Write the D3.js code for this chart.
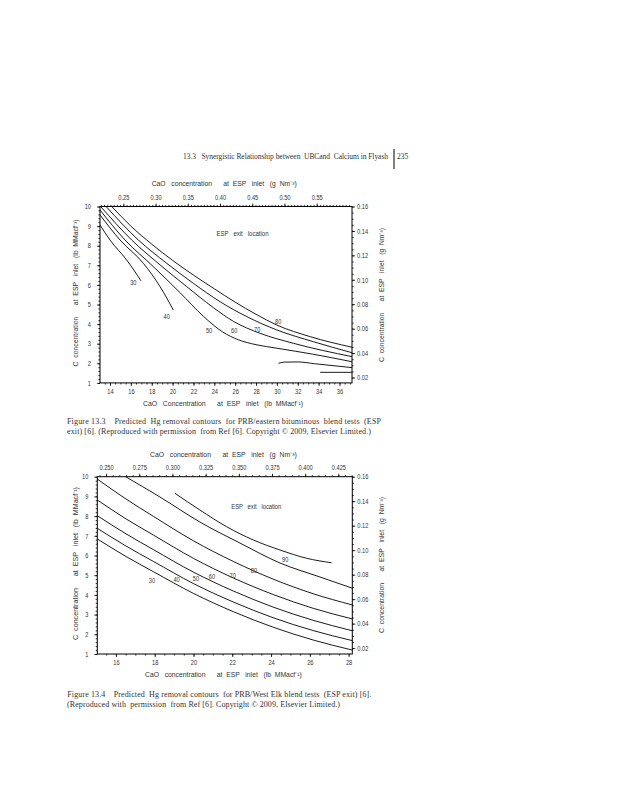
<!DOCTYPE html>
<html>
<head>
<meta charset="utf-8">
<script src="https://cdn.jsdelivr.net/npm/d3@7"></script>
<style>
  body { margin: 0; background: #fff; }
  svg text { font-family: "Liberation Sans", Arial, sans-serif; fill: #333; white-space: pre; }
  .serif { font-family: "Liberation Serif", "DejaVu Serif", serif; }
</style>
</head>
<body>
<svg id="page" width="618" height="800"></svg>
<script>
// ---- Figure 13.3 (PRB / eastern bituminous), x and y in lb/MMacf
const fig3Levels = [30, 40, 50, 60, 70, 80];
const fig3C30 = [[13.04, 9.06], [14.0, 8.29], [15.6, 7.27], [16.97, 6.21]];
const fig3C40 = [[13.04, 9.57], [14.96, 8.29], [17.2, 7.1], [18.8, 5.91], [20.07, 4.72]];
const fig3C50 = [[13.04, 9.82], [15.44, 8.29], [18.16, 6.93], [20.72, 5.6], [22.95, 4.4], [24.8, 3.6], [26.3, 3.2], [28.0, 2.95], [30.0, 2.77], [33.51, 2.46], [37.2, 2.08]];
const fig3C60 = [[13.1, 10], [16.08, 8.29], [18.8, 7.02], [21.36, 5.91], [23.91, 4.84], [25.83, 4.14], [28.39, 3.53], [31.59, 3.02], [37.2, 2.34]];
const fig3C70 = [[13.62, 10], [16.72, 8.29], [19.44, 7.1], [21.99, 6.08], [24.56, 5.14], [27.12, 4.38], [30.0, 3.7], [33.51, 3.1], [37.2, 2.54]];
const fig3C80 = [[14.16, 10], [16.0, 9.0], [18.0, 8.08], [20.0, 7.25], [22.0, 6.5], [24.0, 5.8], [26.0, 5.12], [28.0, 4.5], [30.0, 3.95], [33.19, 3.36], [37.2, 2.82]];
const fig3ShortA = [[30.15, 2.0], [30.7, 2.06], [32.0, 2.07], [33.6, 1.98], [37.2, 1.78]];
const fig3ShortB = [[34.15, 1.54], [37.2, 1.54]];
const fig3LabelPos = [[16.24, 6.13], [19.44, 4.41], [23.5, 3.66], [25.9, 3.66], [28.11, 3.7], [30.12, 4.12]];
const fig3BottomTicks = [14, 16, 18, 20, 22, 24, 26, 28, 30, 32, 34, 36];
const fig3TopTicks = [0.25, 0.30, 0.35, 0.40, 0.45, 0.50, 0.55];

// ---- Figure 13.4 (PRB / West Elk)
const fig4Levels = [30, 40, 50, 60, 70, 80, 90];
const fig4C30 = [[15.04, 6.84], [16.47, 5.98], [17.93, 5.18], [19.99, 4.08], [22.05, 3.15], [24.11, 2.36], [26.17, 1.71], [28.19, 1.2]];
const fig4C40 = [[15.04, 7.38], [16.47, 6.51], [17.93, 5.7], [19.99, 4.58], [22.05, 3.64], [24.11, 2.84], [26.17, 2.19], [28.19, 1.68]];
const fig4C50 = [[15.04, 8.02], [16.47, 7.13], [17.93, 6.3], [19.99, 5.16], [22.05, 4.2], [24.11, 3.38], [26.17, 2.71], [28.19, 2.18]];
const fig4C60 = [[15.04, 8.82], [16.47, 7.89], [17.93, 7.04], [19.99, 5.86], [22.05, 4.86], [24.11, 4.02], [26.17, 3.32], [28.19, 2.78]];
const fig4C70 = [[15.04, 9.88], [16.47, 8.9], [17.93, 7.99], [19.99, 6.75], [22.05, 5.7], [24.11, 4.8], [26.17, 4.06], [28.19, 3.49]];
const fig4C80 = [[16.5, 10], [18.27, 8.97], [20.33, 7.7], [22.4, 6.63], [24.46, 5.62], [26.52, 4.91], [28.19, 4.34]];
const fig4C90 = [[19.04, 9.16], [20.33, 8.31], [21.71, 7.46], [23.08, 6.79], [24.46, 6.28], [25.83, 5.86], [27.12, 5.63]];
const fig4LabelPos = [[17.86, 4.71], [19.13, 4.76], [20.13, 4.84], [20.95, 4.92], [22.02, 5.01], [23.12, 5.26], [24.73, 5.82]];
const fig4BottomTicks = [16, 18, 20, 22, 24, 26, 28];
const fig4TopTicks = [0.250, 0.275, 0.300, 0.325, 0.350, 0.375, 0.400, 0.425];

const leftTicks = [1, 2, 3, 4, 5, 6, 7, 8, 9, 10];
const rightTicks = [0.02, 0.04, 0.06, 0.08, 0.10, 0.12, 0.14, 0.16];

const svg = d3.select('#page');
svg.append('rect').attr('width', 618).attr('height', 800).attr('fill', '#fff');

// squeeze labels to look like a narrow face
function narrow(sel, size) {
  sel.attr('font-size', size).each(function () {
    const s = this.textContent;
    const dots = (s.match(/\./g) || []).length;
    this.setAttribute('textLength', ((s.length - dots) * 0.45 + dots * 0.23) * size);
    this.setAttribute('lengthAdjust', 'spacingAndGlyphs');
  });
}

function axis(g, gen, tx, ty, major, minor, fmt, pad) {
  const a = g.append('g').attr('transform', `translate(${tx},${ty})`);
  a.call(gen.tickValues(minor).tickSize(1.6).tickSizeOuter(0).tickFormat(''));
  a.select('.domain').remove();
  const b = g.append('g').attr('transform', `translate(${tx},${ty})`);
  b.call(gen.tickValues(major).tickSize(3).tickSizeOuter(0).tickPadding(pad).tickFormat(fmt));
  b.select('.domain').remove();
  g.selectAll('.tick line').attr('stroke', '#000').attr('stroke-width', 0.8);
  const txt = b.selectAll('text').attr('fill', '#444')
    .style('font-family', '"Liberation Sans", Arial, sans-serif');
  narrow(txt, 7);
}

function title(g, x, y, len, str, rotate) {
  const t = g.append('text').attr('dominant-baseline', 'central')
    .attr('font-size', 6.8).attr('fill', '#2d3350')
    .attr('textLength', len).attr('lengthAdjust', 'spacingAndGlyphs').text(str);
  if (rotate) t.attr('transform', `translate(${x},${y}) rotate(-90)`).attr('text-anchor', 'middle');
  else t.attr('x', x).attr('y', y);
}

function drawFigure(f) {
  const g = svg.append('g');
  const x = d3.scaleLinear().domain(f.xDomain).range([f.left, f.right]);
  const y = d3.scaleLinear().domain([1, 10]).range([f.bottom, f.top]);
  const xTop = d3.scaleLinear().domain(f.topDomain).range([f.left, f.right]);
  const yRight = d3.scaleLinear().domain(f.rightDomain).range([f.bottom, f.top]);

  const line = d3.line().x(d => x(d[0])).y(d => y(d[1])).curve(d3.curveMonotoneX);
  g.append('g').selectAll('path').data(f.curves).join('path')
    .attr('d', line).attr('fill', 'none').attr('stroke', '#000').attr('stroke-width', 0.9);

  const lab = g.append('g').selectAll('text').data(f.labelPos).join('text')
    .attr('x', d => x(d[0])).attr('y', d => y(d[1]))
    .attr('text-anchor', 'middle').attr('dominant-baseline', 'central')
    .attr('fill', '#3a3f55')
    .text((d, i) => f.levels[i]);
  narrow(lab, 7);

  g.append('rect').attr('x', f.left).attr('y', f.top)
    .attr('width', f.right - f.left).attr('height', f.bottom - f.top)
    .attr('fill', 'none').attr('stroke', '#000').attr('stroke-width', 1);

  axis(g, d3.axisBottom(x), 0, f.bottom, f.bottomTicks, d3.range(Math.ceil(f.xDomain[0] * 2) / 2, f.xDomain[1], 0.5), d3.format('d'), 3.2);
  axis(g, d3.axisTop(xTop), 0, f.top, f.topTicks, d3.range(Math.ceil(f.topDomain[0] * 200) / 200, f.topDomain[1], 0.005), d3.format(f.topFmt), 4);
  axis(g, d3.axisLeft(y), f.left, 0, leftTicks, d3.range(1, 10.01, 0.2), d3.format('d'), 6);
  axis(g, d3.axisRight(yRight), f.right, 0, rightTicks, d3.range(0.02, 0.1601, 0.005), d3.format('.2f'), 2);

  const t = f.titles;
  title(g, t.top[0], t.top[1], t.top[2], 'CaO   concentration      at  ESP   inlet   (g  Nm⁻³)');
  title(g, t.bottom[0], t.bottom[1], t.bottom[2], t.bottomText);
  title(g, t.left[0], t.left[1], t.left[2], 'C  concentration      at  ESP   inlet   (lb  MMacf⁻¹)', true);
  title(g, t.right[0], t.right[1], t.right[2], 'C  concentration      at  ESP   inlet   (g  Nm⁻³)', true);
  g.append('text').attr('x', t.note[0]).attr('y', t.note[1]).attr('text-anchor', 'middle')
    .attr('dominant-baseline', 'central').attr('font-size', 6.8).attr('fill', '#2d3350')
    .attr('textLength', t.note[2]).attr('lengthAdjust', 'spacingAndGlyphs')
    .text('ESP   exit   location');

  f.caption.forEach(c => {
    g.append('text').attr('class', 'serif').attr('x', c[0]).attr('y', c[1])
      .attr('dominant-baseline', 'central').attr('font-size', 8).attr('fill', '#2b3560')
      .attr('textLength', c[2]).attr('lengthAdjust', 'spacing').text(c[3]);
  });
}

// running header
svg.append('text').attr('class', 'serif').attr('x', 183).attr('y', 156).attr('dominant-baseline', 'central')
  .attr('font-size', 7.5).attr('fill', '#3a4060').attr('textLength', 205).attr('lengthAdjust', 'spacing')
  .text('13.3   Synergistic Relationship between  UBCand  Calcium in Flyash');
svg.append('line').attr('x1', 394).attr('x2', 394).attr('y1', 149).attr('y2', 169).attr('stroke', '#000').attr('stroke-width', 1);
svg.append('text').attr('class', 'serif').attr('x', 397).attr('y', 156).attr('dominant-baseline', 'central')
  .attr('font-size', 7.5).attr('fill', '#3a4060').text('235');

drawFigure({
  left: 100, right: 352, top: 206.5, bottom: 382.9,
  xDomain: [13.04, 37.2], topDomain: [0.2138, 0.6048], rightDomain: [0.0156, 0.16], topFmt: '.2f',
  curves: [fig3C30, fig3C40, fig3C50, fig3C60, fig3C70, fig3C80, fig3ShortA, fig3ShortB],
  levels: fig3Levels, labelPos: fig3LabelPos,
  bottomTicks: fig3BottomTicks, topTicks: fig3TopTicks,
  titles: {
    top: [151.7, 183.3, 145], bottom: [143, 403.3, 160], bottomText: 'CaO   Concentration      at  ESP   inlet   (lb  MMacf⁻¹)',
    left: [75, 293, 147], right: [381.7, 295, 134], note: [242.5, 233.3, 52]
  },
  caption: [
    [67, 421.7, 314, 'Figure 13.3    Predicted  Hg removal contours  for PRB/eastern bituminous  blend tests  (ESP'],
    [67, 431.7, 304, 'exit) [6]. (Reproduced with permission  from Ref [6]. Copyright © 2009, Elsevier Limited.)']
  ]
});

drawFigure({
  left: 97.3, right: 352.3, top: 476.7, bottom: 654,
  xDomain: [15.04, 28.19], topDomain: [0.2434, 0.4355], rightDomain: [0.0152, 0.16], topFmt: '.3f',
  curves: [fig4C30, fig4C40, fig4C50, fig4C60, fig4C70, fig4C80, fig4C90],
  levels: fig4Levels, labelPos: fig4LabelPos,
  bottomTicks: fig4BottomTicks, topTicks: fig4TopTicks,
  titles: {
    top: [150, 454, 146.7], bottom: [145, 674.3, 156.7], bottomText: 'CaO   concentration      at  ESP   inlet   (lb  MMacf⁻¹)',
    left: [75, 563.5, 153], right: [381.7, 565, 136], note: [256.3, 506.7, 50]
  },
  caption: [
    [67.3, 694.3, 304, 'Figure 13.4    Predicted  Hg removal contours  for PRB/West Elk blend tests  (ESP exit) [6].'],
    [67, 704, 273, '(Reproduced with  permission  from Ref [6]. Copyright © 2009, Elsevier Limited.)']
  ]
});
</script>
</body>
</html>
